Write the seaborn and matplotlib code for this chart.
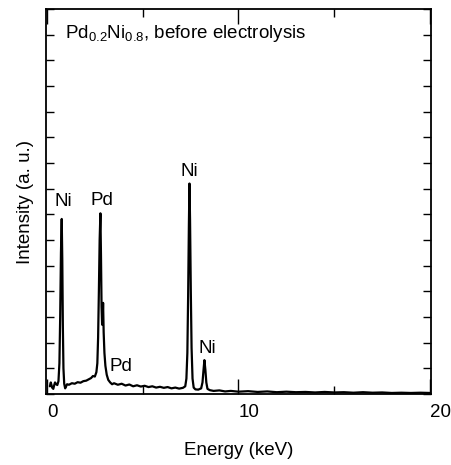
import matplotlib
matplotlib.use("Agg")
import matplotlib.pyplot as plt
import seaborn as sns
import pandas as pd

# EDS spectrum of Pd0.2Ni0.8 before electrolysis (energy in keV, intensity in a.u.)
energy_kev = [
    0.15, 0.20, 0.27, 0.33, 0.38, 0.42, 0.48, 0.54, 0.60, 0.65, 0.69, 0.73, 0.77,
    0.80, 0.83, 0.86, 0.90, 0.95, 1.00, 1.05, 1.15, 1.30, 1.45, 1.60, 1.75, 1.90,
    2.05, 2.20, 2.30, 2.40, 2.50, 2.58, 2.63, 2.67, 2.71, 2.75, 2.79, 2.82, 2.85,
    2.88, 2.91, 2.93, 2.96, 3.00, 3.05, 3.12, 3.20, 3.30, 3.40, 3.50, 3.70, 3.90,
    4.10, 4.30, 4.50, 4.70, 4.90, 5.10, 5.30, 5.50, 5.70, 5.90, 6.10, 6.30, 6.50,
    6.70, 6.90, 7.10, 7.22, 7.28, 7.33, 7.37, 7.41, 7.44, 7.47, 7.51, 7.55, 7.60,
    7.66, 7.75, 7.90, 8.05, 8.12, 8.17, 8.22, 8.27, 8.32, 8.38, 8.50, 8.70, 9.00,
    9.30, 9.60, 10.0, 10.5, 11.0, 11.5, 12.0, 12.5, 13.0, 13.5, 14.0, 14.5, 15.0,
    15.5, 16.0, 16.5, 17.0, 17.5, 18.0, 18.5, 19.0, 19.5, 20.0,
]
intensity = [
    0.30, 0.45, 0.25, 0.20, 0.35, 0.45, 0.38, 0.35, 0.50, 1.20, 3.00, 5.50, 6.82,
    5.20, 2.60, 1.00, 0.40, 0.22, 0.30, 0.38, 0.36, 0.42, 0.40, 0.46, 0.44, 0.50,
    0.52, 0.58, 0.62, 0.70, 0.68, 0.85, 1.20, 2.20, 4.00, 6.00, 7.04, 5.40, 3.40,
    2.70, 3.00, 3.55, 2.40, 1.60, 1.10, 0.75, 0.55, 0.45, 0.38, 0.42, 0.36, 0.40,
    0.33, 0.37, 0.30, 0.34, 0.29, 0.32, 0.27, 0.30, 0.25, 0.28, 0.24, 0.27, 0.22,
    0.25, 0.21, 0.24, 0.30, 0.60, 1.60, 3.80, 6.60, 8.20, 6.80, 4.00, 1.80, 0.60,
    0.25, 0.18, 0.17, 0.22, 0.45, 0.90, 1.32, 0.95, 0.45, 0.20, 0.15, 0.12, 0.14,
    0.10, 0.12, 0.09, 0.11, 0.08, 0.10, 0.07, 0.09, 0.07, 0.08, 0.06, 0.08, 0.06,
    0.07, 0.05, 0.07, 0.05, 0.06, 0.04, 0.05, 0.04, 0.05, 0.04,
]

# Peak assignments: label, energy, intensity of label centre
peak_labels = ["Ni", "Pd", "Ni", "Ni", "Pd"]
peak_label_x = [0.84, 2.86, 7.42, 8.39, 3.85]
peak_label_y = [7.49, 7.52, 8.66, 1.79, 1.06]

title_text = r"Pd$_{0.2}$Ni$_{0.8}$, before electrolysis"
x_ticks = [0, 10, 20]
x_minor_ticks = [5, 15]
y_ticks = list(range(0, 16))

sns.set_style("ticks")
plt.rcParams["font.family"] = ["Liberation Sans", "DejaVu Sans"]
plt.rcParams["mathtext.default"] = "regular"
plt.rcParams["text.color"] = "black"
plt.rcParams["axes.labelcolor"] = "black"
plt.rcParams["xtick.color"] = "black"
plt.rcParams["ytick.color"] = "black"

df = pd.DataFrame({"Energy": energy_kev, "Intensity": intensity})

fig = plt.figure(figsize=(4.52, 4.65), dpi=100)
ax = fig.add_axes([0.1018, 0.1527, 0.8517, 0.8279])

sns.lineplot(data=df, x="Energy", y="Intensity", color="black", linewidth=1.6,
             ax=ax, sort=False)

ax.set_xlim(-0.05, 20.05)
ax.set_ylim(0, 15)
ax.set_xticks(x_ticks)
ax.set_xticks(x_minor_ticks, minor=True)
ax.set_xticklabels([str(t) for t in x_ticks], fontsize=13.5, ha="left")
ax.set_yticks(y_ticks)
ax.set_yticklabels([])

ax.tick_params(axis="x", which="major", direction="in", length=11, width=1,
               top=True, bottom=True, pad=7, colors="black")
ax.tick_params(axis="x", which="minor", direction="in", length=6, width=1,
               top=True, bottom=True)
ax.tick_params(axis="y", which="major", direction="in", length=6, width=1,
               left=True, right=True)

for s in ax.spines.values():
    s.set_linewidth(1.3)
    s.set_color("black")

ax.set_xlabel("Energy (keV)", fontsize=13.5, labelpad=15)
ax.set_ylabel("Intensity (a. u.)", fontsize=13.5, labelpad=5)

for lbl, x, y in zip(peak_labels, peak_label_x, peak_label_y):
    ax.text(x, y, lbl, fontsize=13.5, ha="center", va="center", color="black")

ax.text(0.94, 14.06, title_text, fontsize=13.5, ha="left", va="center",
        color="black")

fig.savefig("out.png", dpi=100)
